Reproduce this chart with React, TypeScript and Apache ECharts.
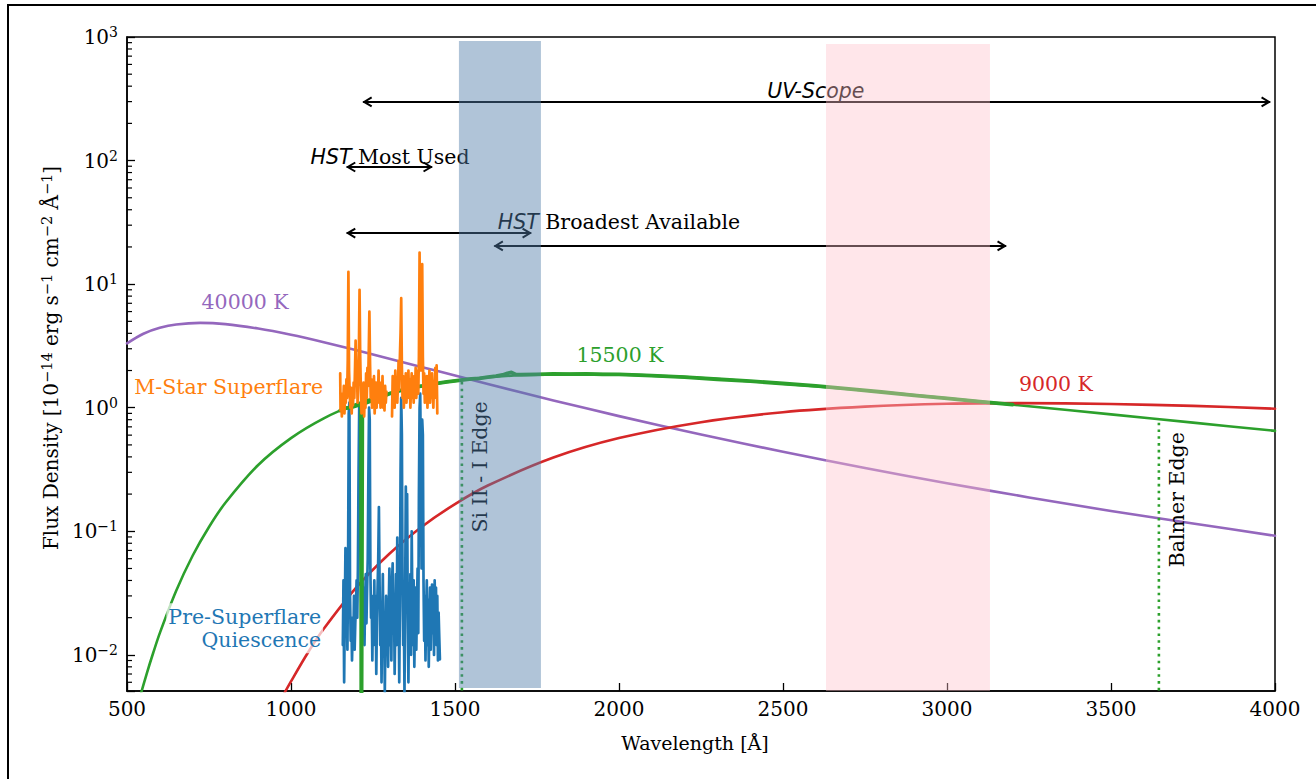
import { useEffect, useRef } from "react";
import * as echarts from "echarts";

// ---- axes -------------------------------------------------------------
const X_MIN = 500;
const X_MAX = 4000;
const X_STEP = 500;
const Y_MIN = 0.0051;
const Y_MAX = 1000;

// ---- black-body curves (flux in 1e-14 erg s^-1 cm^-2 Å^-1) ------------
const BB40000_WL = [500, 550, 600, 650, 723, 800, 900, 1000, 1100, 1200, 1300, 1400, 1500, 1600, 1800, 2000, 2250, 2500, 2750, 3000, 3250, 3500, 3750, 4000];
const BB40000_FLUX = [3.32, 3.97, 4.43, 4.72, 4.86, 4.75, 4.37, 3.89, 3.39, 2.92, 2.49, 2.13, 1.82, 1.555, 1.146, 0.855, 0.607, 0.44, 0.325, 0.245, 0.188, 0.146, 0.1157, 0.092];

const BB15500_WL = [530, 540, 560, 580, 600, 650, 700, 750, 800, 900, 1000, 1100, 1200, 1300, 1400, 1500, 1600, 1700, 1870, 2000, 2250, 2500, 2750, 3000, 3250, 3500, 3750, 4000];
const BB15500_FLUX = [0.0036, 0.0046, 0.00703, 0.0104, 0.015, 0.033, 0.0634, 0.1084, 0.17, 0.344, 0.568, 0.821, 1.074, 1.305, 1.5, 1.65, 1.762, 1.83, 1.88, 1.86, 1.74, 1.566, 1.377, 1.194, 1.028, 0.883, 0.757, 0.65];

const BB9000_WL = [970, 1000, 1050, 1100, 1200, 1300, 1400, 1500, 1600, 1800, 2000, 2250, 2500, 2750, 3000, 3220, 3500, 3750, 4000];
const BB9000_FLUX = [0.0044, 0.0061, 0.01026, 0.01624, 0.0353, 0.0659, 0.1095, 0.166, 0.2346, 0.395, 0.568, 0.764, 0.92, 1.02, 1.077, 1.09, 1.072, 1.034, 0.982];

// ---- simulated 15500 K spectrum, with the Lyman-alpha gap ---------------
const MODEL_SPEC = [
  [1150, 0.95], [1165, 0.99], [1180, 1.0], [1195, 1.03], [1210, 1.06], [1213.5, 1.06], [1214.5, 0.001], [1216.5, 0.001],
  [1217.5, 1.07], [1230, 1.1], [1250, 1.15], [1275, 1.22], [1300, 1.3], [1325, 1.36], [1350, 1.41], [1375, 1.46],
  [1400, 1.5], [1425, 1.55], [1450, 1.58], [1475, 1.62], [1500, 1.65], [1525, 1.68], [1550, 1.71], [1575, 1.73],
  [1600, 1.77], [1625, 1.8], [1645, 1.84], [1660, 1.9], [1672, 1.93], [1685, 1.86], [1700, 1.85], [1750, 1.86],
  [1800, 1.88], [1850, 1.87], [1900, 1.88], [1950, 1.86], [2000, 1.86], [2100, 1.82], [2200, 1.77], [2300, 1.7],
  [2400, 1.64], [2500, 1.57], [2600, 1.5], [2700, 1.42], [2800, 1.34], [2900, 1.26], [3000, 1.19], [3100, 1.12],
  [3200, 1.06],
];

// ---- M-star superflare spectrum (two detector segments) ----------------
const FLARE_A = [
  [1150, 1.9], [1151, 0.95], [1153, 1.2], [1155, 0.85], [1157, 1.3], [1159, 1.05], [1161, 1.5], [1163, 0.9],
  [1165, 1.35], [1167, 1.1], [1169, 1.7], [1171, 1.2], [1173, 2.4], [1175, 12.6], [1177, 2.0], [1179, 1.3],
  [1181, 1.0], [1183, 1.45], [1185, 0.9], [1187, 1.3], [1189, 1.05], [1191, 1.6], [1193, 1.2], [1195, 2.0],
  [1197, 3.5], [1199, 1.6], [1201, 2.2], [1203, 1.1], [1205, 1.7], [1207, 3.0], [1209, 9.0], [1211, 2.6],
  [1213, 1.4], [1215, 0.9], [1217, 1.5], [1219, 1.1], [1221, 1.6], [1223, 0.85], [1225, 1.3], [1227, 1.0],
  [1229, 1.9], [1231, 1.2], [1233, 2.1], [1235, 1.5], [1237, 2.8], [1239, 6.0], [1241, 2.3], [1243, 1.2],
  [1245, 1.7], [1247, 1.0], [1249, 1.4], [1251, 1.1], [1253, 1.8], [1255, 0.9], [1257, 1.3], [1259, 1.6],
  [1261, 1.0], [1263, 1.5], [1265, 1.2], [1267, 2.0], [1269, 1.1], [1271, 1.4], [1273, 1.0], [1275, 1.6],
  [1277, 1.2], [1279, 1.8], [1281, 1.0], [1283, 1.3], [1285, 0.95], [1287, 1.5], [1289, 1.1], [1291, 1.35],
];
const FLARE_B = [
  [1308, 0.85], [1310, 1.8], [1312, 1.1], [1314, 1.6], [1316, 1.0], [1318, 2.0], [1320, 1.3], [1322, 1.7],
  [1324, 1.1], [1326, 1.5], [1328, 2.4], [1330, 1.4], [1332, 2.6], [1334, 4.0], [1336, 7.7], [1338, 2.2],
  [1340, 1.2], [1342, 1.8], [1344, 1.0], [1346, 1.6], [1348, 1.2], [1350, 1.9], [1352, 1.1], [1354, 1.5],
  [1356, 1.3], [1358, 2.0], [1360, 1.2], [1362, 1.7], [1364, 1.0], [1366, 1.5], [1368, 1.9], [1370, 1.2],
  [1372, 1.6], [1374, 1.1], [1376, 1.8], [1378, 1.3], [1380, 2.1], [1382, 1.2], [1384, 1.6], [1386, 2.0],
  [1388, 1.3], [1390, 2.6], [1392, 18.0], [1394, 3.5], [1396, 2.0], [1398, 3.2], [1400, 14.5], [1402, 2.6],
  [1404, 1.3], [1406, 1.9], [1408, 1.1], [1410, 1.6], [1412, 1.2], [1414, 1.8], [1416, 1.0], [1418, 1.5],
  [1420, 1.3], [1422, 2.0], [1424, 1.1], [1426, 1.7], [1428, 1.2], [1430, 1.9], [1432, 1.4], [1434, 1.0],
  [1436, 1.6], [1438, 1.2], [1440, 2.1], [1442, 1.3], [1444, 2.2], [1446, 0.9],
];

// ---- pre-superflare quiescent spectrum ---------------------------------
const QUIESCENT = [
  [1158, 0.012], [1160, 0.04], [1162, 0.006], [1164, 0.022], [1166, 0.073], [1168, 0.015], [1170, 0.03], [1172, 0.011],
  [1174, 0.05], [1176, 0.9], [1178, 1.1], [1180, 0.03], [1182, 0.013], [1184, 0.02], [1186, 0.009], [1188, 0.016],
  [1190, 0.012], [1192, 0.03], [1194, 0.011], [1196, 0.018], [1198, 0.025], [1200, 0.04], [1202, 0.02], [1204, 0.05],
  [1206, 0.3], [1208, 1.0], [1210, 0.9], [1212, 0.1], [1214, 0.03], [1216, 0.015], [1218, 0.04], [1220, 0.02],
  [1222, 0.035], [1224, 0.012], [1226, 0.028], [1228, 0.045], [1230, 0.018], [1232, 0.035], [1234, 0.06], [1236, 0.3],
  [1238, 1.0], [1240, 0.8], [1242, 0.05], [1244, 0.02], [1246, 0.03], [1248, 0.009], [1250, 0.025], [1252, 0.012],
  [1254, 0.04], [1256, 0.015], [1258, 0.03], [1260, 0.007], [1262, 0.02], [1264, 0.035], [1266, 0.06], [1268, 0.157],
  [1270, 0.04], [1272, 0.012], [1274, 0.025], [1276, 0.006], [1278, 0.018], [1280, 0.045], [1282, 0.01], [1284, 0.022],
  [1286, 0.005], [1288, 0.015], [1290, 0.03], [1292, 0.011], [1294, 0.02], [1296, 0.008], [1298, 0.025], [1300, 0.05],
  [1302, 0.012], [1304, 0.03], [1306, 0.009], [1308, 0.04], [1310, 0.055], [1312, 0.015], [1314, 0.03], [1316, 0.007],
  [1318, 0.02], [1320, 0.045], [1322, 0.012], [1324, 0.089], [1326, 0.02], [1328, 0.035], [1330, 0.006], [1332, 0.025],
  [1334, 0.3], [1336, 1.2], [1338, 0.6], [1340, 0.04], [1342, 0.012], [1344, 0.02], [1346, 0.005], [1348, 0.03],
  [1350, 0.23], [1352, 0.05], [1354, 0.2], [1356, 0.02], [1358, 0.006], [1360, 0.03], [1362, 0.015], [1364, 0.045],
  [1366, 0.01], [1368, 0.1], [1370, 0.025], [1372, 0.012], [1374, 0.04], [1376, 0.008], [1378, 0.02], [1380, 0.035],
  [1382, 0.011], [1384, 0.025], [1386, 0.05], [1388, 0.015], [1390, 0.2], [1392, 1.0], [1394, 1.3], [1396, 0.3],
  [1398, 0.05], [1400, 0.8], [1402, 0.6], [1404, 0.04], [1406, 0.013], [1408, 0.03], [1410, 0.009], [1412, 0.022],
  [1414, 0.04], [1416, 0.012], [1418, 0.028], [1420, 0.008], [1422, 0.02], [1424, 0.035], [1426, 0.011], [1428, 0.025],
  [1430, 0.037], [1432, 0.015], [1434, 0.03], [1436, 0.01], [1438, 0.04], [1440, 0.02], [1442, 0.035], [1444, 0.012],
  [1446, 0.03], [1448, 0.009], [1450, 0.022], [1452, 0.014], [1454, 0.0092],
];

// ---- spectral edges (dotted verticals up to the 15500 K curve) ----------
const EDGE_WL = [1521, 3646];
const EDGE_TOP = [1.67, 0.81];

// ---- instrument ranges (double-headed arrows) --------------------------
const ARROW_FROM = [1220, 1170, 1170, 1620];
const ARROW_TO = [3985, 1430, 1732, 3180];
const ARROW_FLUX = [298, 88.7, 25.9, 20.4];

// ---- shaded bandpasses --------------------------------------------------
const BAND_FROM = [1512, 2631];
const BAND_TO = [1762, 3131];
const BAND_LOW = [0.0054, 0.0051];
const BAND_HIGH = [929, 878];
const BAND_COLORS = ["rgba(79,124,168,0.45)", "rgba(255,192,203,0.4)"];

const SERIF = "'DejaVu Serif', serif";
const SANS = "'DejaVu Sans', sans-serif";
const PURPLE = "#9467bd";
const GREEN = "#2ca02c";
const RED = "#d62728";
const ORANGE = "#ff7f0e";
const BLUE = "#1f77b4";
const NOTE_SIZE = 20.5;

const zip = (xs: number[], ys: number[]) => xs.map((x, i) => [x, ys[i]]);

const supMinus = (n: number) => (n < 0 ? "\u2212" + Math.abs(n) : String(n));

function minorTickValues(): number[] {
  const out: number[] = [];
  for (let e = -3; e <= 2; e++) {
    for (let m = 2; m <= 9; m++) {
      const v = m * Math.pow(10, e);
      if (v > Y_MIN && v < Y_MAX) out.push(v);
    }
  }
  return out;
}

function lineSeries(data: any[], color: string, width: number, z: number, smooth: number | boolean = false) {
  return {
    type: "line",
    data,
    showSymbol: false,
    symbol: "none",
    smooth,
    clip: true,
    silent: true,
    z,
    lineStyle: { color, width, cap: "round", join: "round" },
  };
}

function buildOption(): any {
  const stroke = { stroke: "#000", lineWidth: 2, fill: "none" };
  return {
    animation: false,
    backgroundColor: "transparent",
    grid: {
      left: 127,
      right: 41,
      top: 37,
      bottom: 88,
      show: true,
      borderColor: "#000",
      borderWidth: 1.5,
      backgroundColor: "transparent",
    },
    xAxis: {
      type: "value",
      min: X_MIN,
      max: X_MAX,
      interval: X_STEP,
      name: "Wavelength [Å]",
      nameLocation: "middle",
      nameGap: 42,
      nameTextStyle: { fontFamily: SERIF, fontSize: 19, color: "#000", padding: [0, 12, 0, 0] },
      axisLine: { show: true, lineStyle: { color: "#000", width: 1.5 } },
      axisTick: { show: true, inside: true, length: 8, lineStyle: { color: "#000", width: 1.3 } },
      axisLabel: { fontFamily: SERIF, fontSize: 20, color: "#000", margin: 8, formatter: (v: number) => String(v) },
      splitLine: { show: false },
    },
    yAxis: {
      type: "log",
      logBase: 10,
      min: Y_MIN,
      max: Y_MAX,
      name:
        "{b|Flux Density [10}{s|\u221214}{b| erg s}{s|\u22121}{b| cm}{s|\u22122}{b| Å}{s|\u22121}{b|]}",
      nameLocation: "middle",
      nameRotate: 90,
      nameGap: 64,
      nameTextStyle: {
        color: "#000",
        padding: [0, 0, 0, 12],
        rich: {
          b: { fontFamily: SERIF, fontSize: 20, lineHeight: 24, color: "#000" },
          s: { fontFamily: SERIF, fontSize: 14.5, lineHeight: 14, verticalAlign: "top", color: "#000" },
        },
      },
      axisLine: { show: true, lineStyle: { color: "#000", width: 1.5 } },
      axisTick: { show: true, inside: true, length: 8, lineStyle: { color: "#000", width: 1.3 } },
      axisLabel: {
        interval: 0,
        margin: 9,
        showMinLabel: true,
        showMaxLabel: true,
        formatter: (v: number) => {
          const e = Math.log10(v);
          const r = Math.round(e);
          if (Math.abs(e - r) > 1e-6) return "";
          return `{b|10}{s|${supMinus(r)}}`;
        },
        rich: {
          b: { fontFamily: SERIF, fontSize: 20, lineHeight: 24, color: "#000" },
          s: { fontFamily: SERIF, fontSize: 14, lineHeight: 14, verticalAlign: "top", color: "#000" },
        },
      },
      splitLine: { show: false },
      minorTick: { show: false },
    },
    series: [
      lineSeries(zip(BB40000_WL, BB40000_FLUX), PURPLE, 2.6, 2, 0.3),
      lineSeries(zip(BB15500_WL, BB15500_FLUX), GREEN, 2.6, 2, 0.3),
      lineSeries(zip(BB9000_WL, BB9000_FLUX), RED, 2.6, 2, 0.3),
      ...EDGE_WL.map((wl, i) => ({
        ...lineSeries([[wl, 0.004], [wl, EDGE_TOP[i]]], GREEN, 2.6, 2),
        lineStyle: { color: GREEN, width: 2.6, type: [2.6, 4.2], cap: "butt" },
      })),
      lineSeries(QUIESCENT, BLUE, 2.7, 3),
      lineSeries(MODEL_SPEC, GREEN, 3.8, 4),
      lineSeries(FLARE_A, ORANGE, 2.7, 5),
      lineSeries(FLARE_B, ORANGE, 2.7, 5),
      {
        type: "custom",
        silent: true,
        z: 6,
        clip: false,
        encode: { x: [0, 1], y: 2 },
        data: ARROW_FROM.map((a, i) => [a, ARROW_TO[i], ARROW_FLUX[i]]),
        renderItem: (_p: any, api: any) => {
          const y = api.value(2);
          const a = api.coord([api.value(0), y]);
          const b = api.coord([api.value(1), y]);
          const hl = 8.5;
          const hw = 4.5;
          return {
            type: "group",
            children: [
              { type: "line", shape: { x1: a[0], y1: a[1], x2: b[0], y2: b[1] }, style: stroke },
              { type: "polyline", shape: { points: [[a[0] + hl, a[1] - hw], [a[0] + 1, a[1]], [a[0] + hl, a[1] + hw]] }, style: stroke },
              { type: "polyline", shape: { points: [[b[0] - hl, b[1] - hw], [b[0] - 1, b[1]], [b[0] - hl, b[1] + hw]] }, style: stroke },
            ],
          };
        },
      },
      {
        type: "custom",
        silent: true,
        z: 6,
        clip: false,
        encode: { x: 0, y: 1 },
        data: minorTickValues().map((v) => [X_MIN, v]),
        renderItem: (_p: any, api: any) => {
          const p = api.coord([api.value(0), api.value(1)]);
          return {
            type: "line",
            shape: { x1: p[0], y1: p[1], x2: p[0] + 5, y2: p[1] },
            style: { stroke: "#000", lineWidth: 1.2 },
          };
        },
      },
      {
        type: "custom",
        silent: true,
        z: 10,
        clip: false,
        encode: { x: [0, 1], y: [2, 3] },
        data: BAND_FROM.map((a, i) => [a, BAND_TO[i], BAND_LOW[i], BAND_HIGH[i]]),
        renderItem: (p: any, api: any) => {
          const tl = api.coord([api.value(0), api.value(3)]);
          const br = api.coord([api.value(1), api.value(2)]);
          return {
            type: "rect",
            shape: { x: tl[0], y: tl[1], width: br[0] - tl[0], height: br[1] - tl[1] },
            style: { fill: BAND_COLORS[p.dataIndex] },
          };
        },
      },
    ],
  };
}

type At = (x: number, y: number) => number[];

function buildLabels(at: At): any[] {
  const italicRich = {
    i: { fontFamily: SANS, fontStyle: "italic", fontSize: NOTE_SIZE, color: "#000" },
    r: { fontFamily: SERIF, fontSize: NOTE_SIZE, color: "#000" },
  };
  const plain = (wl: number, flux: number, text: string, fill: string, align = "center") => {
    const [x, y] = at(wl, flux);
    return {
      type: "text",
      x,
      y,
      z: 7,
      silent: true,
      style: { text, fill, fontFamily: SERIF, fontSize: NOTE_SIZE, align, verticalAlign: "middle" },
    };
  };
  const rich = (wl: number, flux: number, text: string) => {
    const [x, y] = at(wl, flux);
    return {
      type: "text",
      x,
      y,
      z: 7,
      silent: true,
      style: { text, rich: italicRich, align: "center", verticalAlign: "middle" },
    };
  };
  const vertical = (wl: number, flux: number, text: string) => {
    const [x, y] = at(wl, flux);
    return {
      type: "text",
      x,
      y,
      rotation: Math.PI / 2,
      z: 7,
      silent: true,
      style: { text, fill: "#000", fontFamily: SERIF, fontSize: NOTE_SIZE, align: "center", verticalAlign: "middle" },
    };
  };
  const [qx, qy] = at(1098, 0.0164);
  return [
    rich(2600, 366, "{i|UV-Scope}"),
    rich(1302, 107, "{i|HST}{r| Most Used}"),
    rich(2000, 31.8, "{i|HST}{r| Broadest Available}"),
    plain(860, 7.18, "40000 K", PURPLE),
    plain(2003, 2.67, "15500 K", GREEN),
    plain(3332, 1.56, "9000 K", RED),
    plain(1098, 1.47, "M-Star Superflare", ORANGE, "right"),
    {
      type: "text",
      x: qx,
      y: qy,
      z: 7,
      silent: true,
      style: {
        text: "Pre-Superflare\nQuiescence",
        fill: BLUE,
        fontFamily: SERIF,
        fontSize: NOTE_SIZE,
        lineHeight: 23,
        align: "right",
        verticalAlign: "middle",
        backgroundColor: "rgba(255,255,255,0.7)",
        padding: [2, 2, 2, 2],
      },
    },
    vertical(1576, 0.332, "Si II - I Edge"),
    vertical(3701, 0.18, "Balmer Edge"),
  ];
}

export default function App() {
  const ref = useRef<HTMLDivElement>(null);

  useEffect(() => {
    if (!ref.current) return;
    const chart = echarts.init(ref.current, null, { renderer: "svg" });
    chart.setOption(buildOption());
    const at: At = (x, y) => chart.convertToPixel({ gridIndex: 0 } as any, [x, y]) as number[];
    chart.setOption({ graphic: { elements: buildLabels(at) } });
    return () => chart.dispose();
  }, []);

  return (
    <div
      style={{
        position: "fixed",
        left: 0,
        top: 0,
        width: 1316,
        height: 779,
        overflow: "hidden",
        background: "#fff",
      }}
    >
      <div
        style={{
          position: "absolute",
          left: 7,
          top: 4,
          width: 2000,
          height: 2000,
          borderTop: "2px solid #000",
          borderLeft: "2px solid #000",
        }}
      />
      <div ref={ref} style={{ position: "absolute", left: 0, top: 0, width: 1316, height: 779 }} />
    </div>
  );
}
